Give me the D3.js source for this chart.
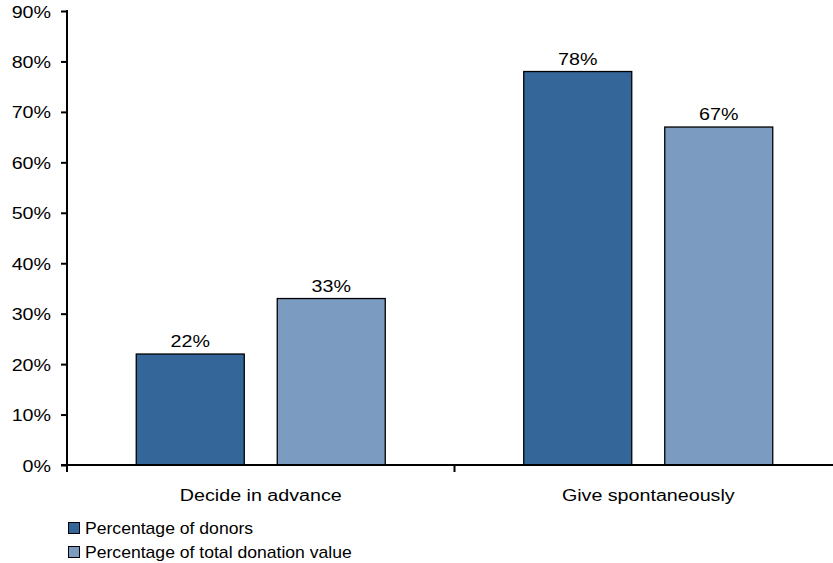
<!DOCTYPE html>
<html>
<head>
<meta charset="utf-8">
<script src="https://cdn.jsdelivr.net/npm/d3@7"></script>
<style>
  html, body { margin: 0; padding: 0; background: #fff; }
  svg text { font-family: "Liberation Sans", Arial, sans-serif; fill: #000; }
</style>
</head>
<body>
<svg id="chart" width="833" height="563"></svg>
<script>
// Donation timing survey
const categories = ["Decide in advance", "Give spontaneously"];
const seriesNames = ["Percentage of donors", "Percentage of total donation value"];
const donors = [22, 78];
const donationValue = [33, 67];
const yTicks = [0, 10, 20, 30, 40, 50, 60, 70, 80, 90];
const colors = ["#346699", "#7b9cc0"];

const svg = d3.select("#chart");
const W = 833;
const x0 = 67, x1 = 842, y0 = 465, y1 = 11;
const FS = 16, SX = 1.23; // font size and horizontal stretch of the lettering

// Place a text element with a wide-set typeface look
function placeText(sel, fx, fy, sx = SX) {
  sel.attr("x", 0).attr("y", 0)
     .attr("transform", (d, i) => `translate(${fx(d, i)},${fy(d, i)}) scale(${sx},1)`);
}

const x = d3.scaleBand().domain(categories).range([x0, x1]).paddingInner(0).paddingOuter(0);
const y = d3.scaleLinear().domain([0, 90]).range([y0, y1]);

// Inner offsets: two bars with a gap, centred in each band
const barW = 108, gap = 33;
const groupW = barW * 2 + gap;
const xs = d3.scaleOrdinal().domain([0, 1]).range([0, barW + gap]);

const series = [donors, donationValue];

const g = svg.append("g");
series.forEach((vals, si) => {
  const rows = categories.map((c, i) => ({ c, v: vals[i] }));
  g.selectAll(null)
    .data(rows)
    .enter()
    .append("rect")
    .attr("x", d => x(d.c) + (x.bandwidth() - groupW) / 2 + xs(si))
    .attr("y", d => y(d.v))
    .attr("width", barW)
    .attr("height", d => y(0) - y(d.v))
    .attr("fill", colors[si])
    .attr("stroke", "#000")
    .attr("stroke-width", 1.3);

  g.selectAll(null)
    .data(rows)
    .enter()
    .append("text")
    .attr("text-anchor", "middle")
    .attr("font-size", FS)
    .text(d => d.v + "%")
    .call(placeText,
          d => x(d.c) + (x.bandwidth() - groupW) / 2 + xs(si) + barW / 2,
          d => y(d.v) - 7);
});

// Y axis
const yAxis = d3.axisLeft(y).tickValues(yTicks).tickFormat(d => d + "%").tickSize(6).tickPadding(11);
const ya = svg.append("g").attr("transform", `translate(${x0},0)`).call(yAxis);
ya.select(".domain").attr("stroke", "#000").attr("stroke-width", 2).attr("d", `M0,${y1 - 1}V${y0}`);
ya.selectAll(".tick line").attr("stroke", "#000").attr("stroke-width", 2);
ya.selectAll(".tick text")
  .attr("font-size", FS)
  .attr("font-family", "Liberation Sans, Arial, sans-serif")
  .attr("fill", "#000")
  .attr("dy", null)
  .call(placeText, () => -16, () => 6);

// X axis: tick marks sit between categories
const xa = svg.append("g").attr("transform", `translate(0,${y0})`);
xa.append("line").attr("x1", x0 - 6).attr("x2", W).attr("y1", 0).attr("y2", 0)
  .attr("stroke", "#000").attr("stroke-width", 2);
const boundaries = [x0, x(categories[1])];
xa.selectAll(null).data(boundaries).enter().append("line")
  .attr("x1", d => d).attr("x2", d => d).attr("y1", 0).attr("y2", 7)
  .attr("stroke", "#000").attr("stroke-width", 2);
xa.selectAll(null).data(categories).enter().append("text")
  .attr("text-anchor", "middle")
  .attr("font-size", FS)
  .text(d => d)
  .call(placeText, d => x(d) + x.bandwidth() / 2, () => 36);

// Legend
const leg = svg.append("g").attr("transform", "translate(68,522)");
seriesNames.forEach((name, i) => {
  const row = leg.append("g").attr("transform", `translate(0,${i * 24})`);
  row.append("rect").attr("x", 0.5).attr("y", 0.5).attr("width", 11).attr("height", 11)
    .attr("fill", colors[i]).attr("stroke", "#000").attr("stroke-width", 1);
  row.append("text").attr("font-size", FS).text(name)
    .call(placeText, () => 17, () => 11.5, 1.1);
});
</script>
</body>
</html>
